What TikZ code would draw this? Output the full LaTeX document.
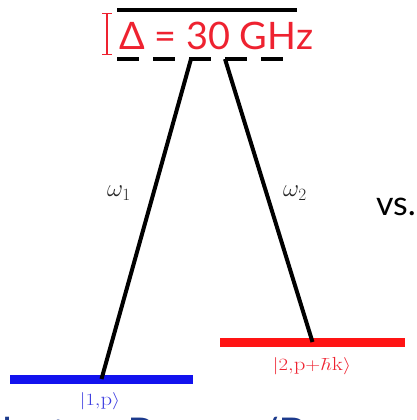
\documentclass[tikz,border=0pt]{standalone}
\usepackage{fontspec}
\setsansfont{Lato}
\usetikzlibrary{arrows.meta}
\definecolor{lvlred}{HTML}{FF1414}
\definecolor{lvlblue}{HTML}{1212EE}
\definecolor{txtred}{HTML}{EE2230}
\definecolor{ketblue}{HTML}{3C3CE0}
\definecolor{navy}{HTML}{1C3A8C}

\begin{document}
\begin{tikzpicture}[x=1bp, y=-1bp,
    level/.style={draw=none, inner sep=0pt, minimum height=9bp},
    beam/.style={line width=4bp},
    ket/.style={inner sep=0pt, font=\fontsize{19}{19}\selectfont},
    freq/.style={inner sep=0pt, font=\fontsize{24}{24}\selectfont, text=black!85},
    big/.style={inner sep=0pt, font=\sffamily\fontsize{38}{38}\selectfont}]
  \useasboundingbox (0,0) rectangle (417,420);
  \clip (0,0) rectangle (417,420);
  % levels
  \node[level, fill=black, minimum width=180bp, minimum height=4bp] (up) at (207,10) {};
  \node[level, fill=lvlblue, minimum width=183bp] (g1) at (101.5,379) {};
  \node[level, fill=lvlred, minimum width=185bp] (g2) at (312.5,342) {};
  \coordinate (vs) at (117,59); \coordinate (ve) at (283,59);
  \coordinate (vl) at (191,59); \coordinate (vr) at (225,59);
  \draw[beam, dash pattern=on 22bp off 14bp] (vs) -- (ve);
  % detuning
  \node[big, text=txtred, anchor=west] (det) at (119,36) {Δ = 30 GHz};
  \draw[txtred, line width=1.3bp, {Bar[width=10bp]}-{Bar[width=10bp]}] (107,13) -- (107,55);
  % beams
  \draw[beam] (vl) -- (g1.center);
  \draw[beam] (vr) -- (g2.center);
  \node[freq] (w1) at (119,193) {$\omega_1$};
  \node[freq] (w2) at (295,193) {$\omega_2$};
  \node[big, font=\sffamily\fontsize{34}{34}\selectfont, anchor=east] (vsx) at (416,207) {vs.};
  % states
  \node[ket, text=ketblue] (k1) at (100,401) {\scalebox{1.2}[1]{$|1{,}\mathrm{p}\rangle$}};
  \node[ket, text=txtred] (k2) at (312,366) {\scalebox{1.2}[1]{$|2{,}\mathrm{p}{+}\hbar\mathrm{k}\rangle$}};
  \node[inner sep=0pt, anchor=base west, text=navy, font=\sffamily\fontsize{44}{44}\selectfont] (cap) at (-22,449) {photon Raman/Bragg};
\end{tikzpicture}
\end{document}
